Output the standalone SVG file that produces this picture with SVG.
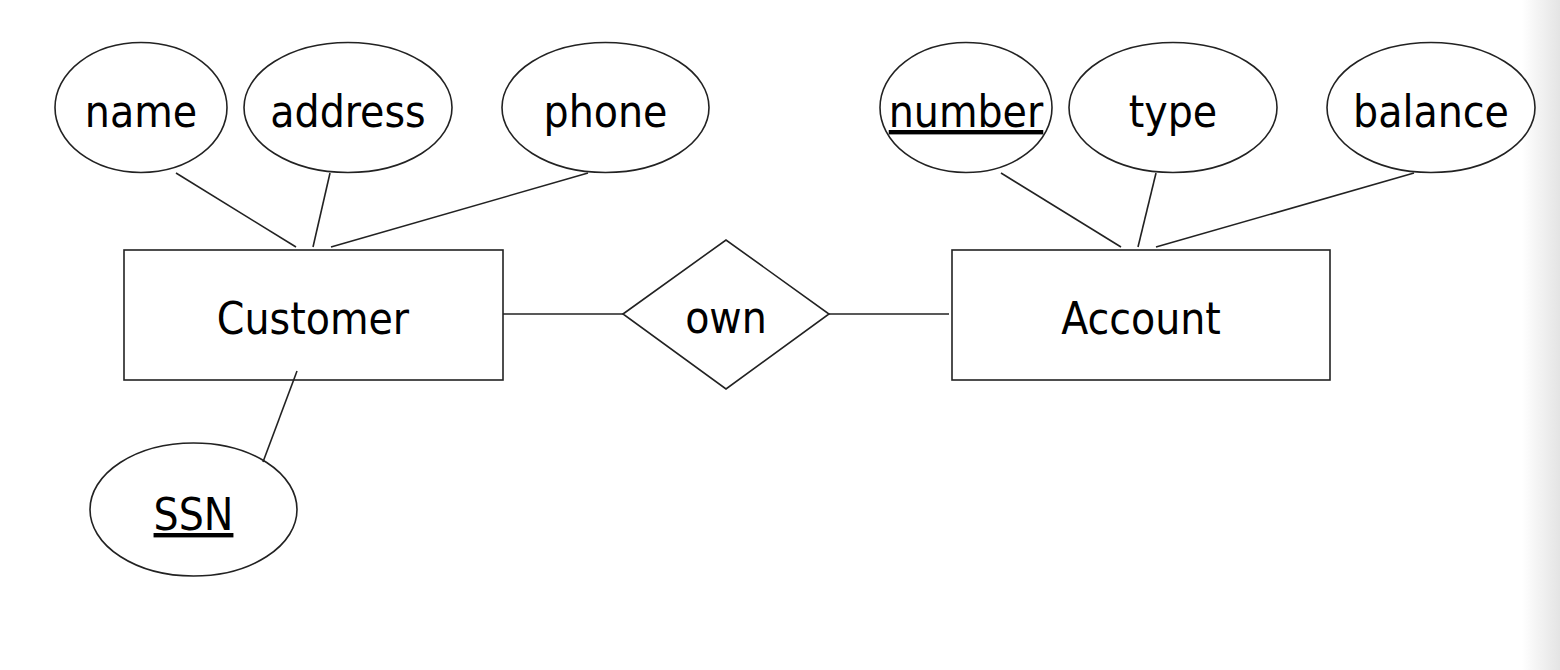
<svg xmlns="http://www.w3.org/2000/svg" width="1560" height="670" viewBox="0 0 1560 670">
<style>
.s{fill:#fff;stroke:#222;stroke-width:1.6}
.l{stroke:#222;stroke-width:1.6;fill:none}
.t{font-family:"DejaVu Sans Condensed","DejaVu Sans",sans-serif;font-size:44px;fill:#000;text-anchor:middle}
.u{text-decoration:underline}
</style>
<defs>
<linearGradient id="edge" x1="0" y1="0" x2="1" y2="0">
<stop offset="0" stop-color="#fff"/>
<stop offset="1" stop-color="#e4e4e4"/>
</linearGradient>
</defs>
<rect x="0" y="0" width="1560" height="670" fill="#fff"/>
<rect x="1522" y="0" width="38" height="670" fill="url(#edge)"/>
<g id="name"><ellipse class="s" cx="141" cy="107.5" rx="86" ry="65"/><text class="t" x="141" y="127">name</text></g>
<g id="address"><ellipse class="s" cx="348" cy="107.5" rx="104" ry="65"/><text class="t" x="348" y="127">address</text></g>
<g id="phone"><ellipse class="s" cx="605.5" cy="107.5" rx="103.5" ry="65"/><text class="t" x="605.5" y="127">phone</text></g>
<g id="number"><ellipse class="s" cx="966" cy="107.5" rx="86" ry="65"/><text class="t u" x="966" y="127">number</text></g>
<g id="type"><ellipse class="s" cx="1173" cy="107.5" rx="104" ry="65"/><text class="t" x="1173" y="127">type</text></g>
<g id="balance"><ellipse class="s" cx="1431" cy="107.5" rx="104" ry="65"/><text class="t" x="1431" y="127">balance</text></g>
<g id="customer"><rect class="s" x="124" y="250" width="379" height="130"/><text class="t" x="313" y="334">Customer</text></g>
<g id="account"><rect class="s" x="952" y="250" width="378" height="130"/><text class="t" x="1141" y="334">Account</text></g>
<g id="own"><polygon class="s" points="623,314 726,240 829,314 726,389"/><text class="t" x="726" y="333">own</text></g>
<g id="ssn"><ellipse class="s" cx="193.5" cy="509.5" rx="103.5" ry="66.5"/><text class="t u" x="193.5" y="530">SSN</text></g>
<g id="connectors">
<line class="l" x1="176" y1="173" x2="296" y2="247"/>
<line class="l" x1="330" y1="173" x2="313" y2="247"/>
<line class="l" x1="588" y1="173" x2="331" y2="247"/>
<line class="l" x1="1001" y1="173" x2="1121" y2="247"/>
<line class="l" x1="1156" y1="173" x2="1138" y2="247"/>
<line class="l" x1="1414" y1="173" x2="1156" y2="247"/>
<line class="l" x1="297" y1="371" x2="263" y2="462"/>
<line class="l" x1="503" y1="314" x2="623" y2="314"/>
<line class="l" x1="829" y1="314" x2="949" y2="314"/>
</g>
</svg>
